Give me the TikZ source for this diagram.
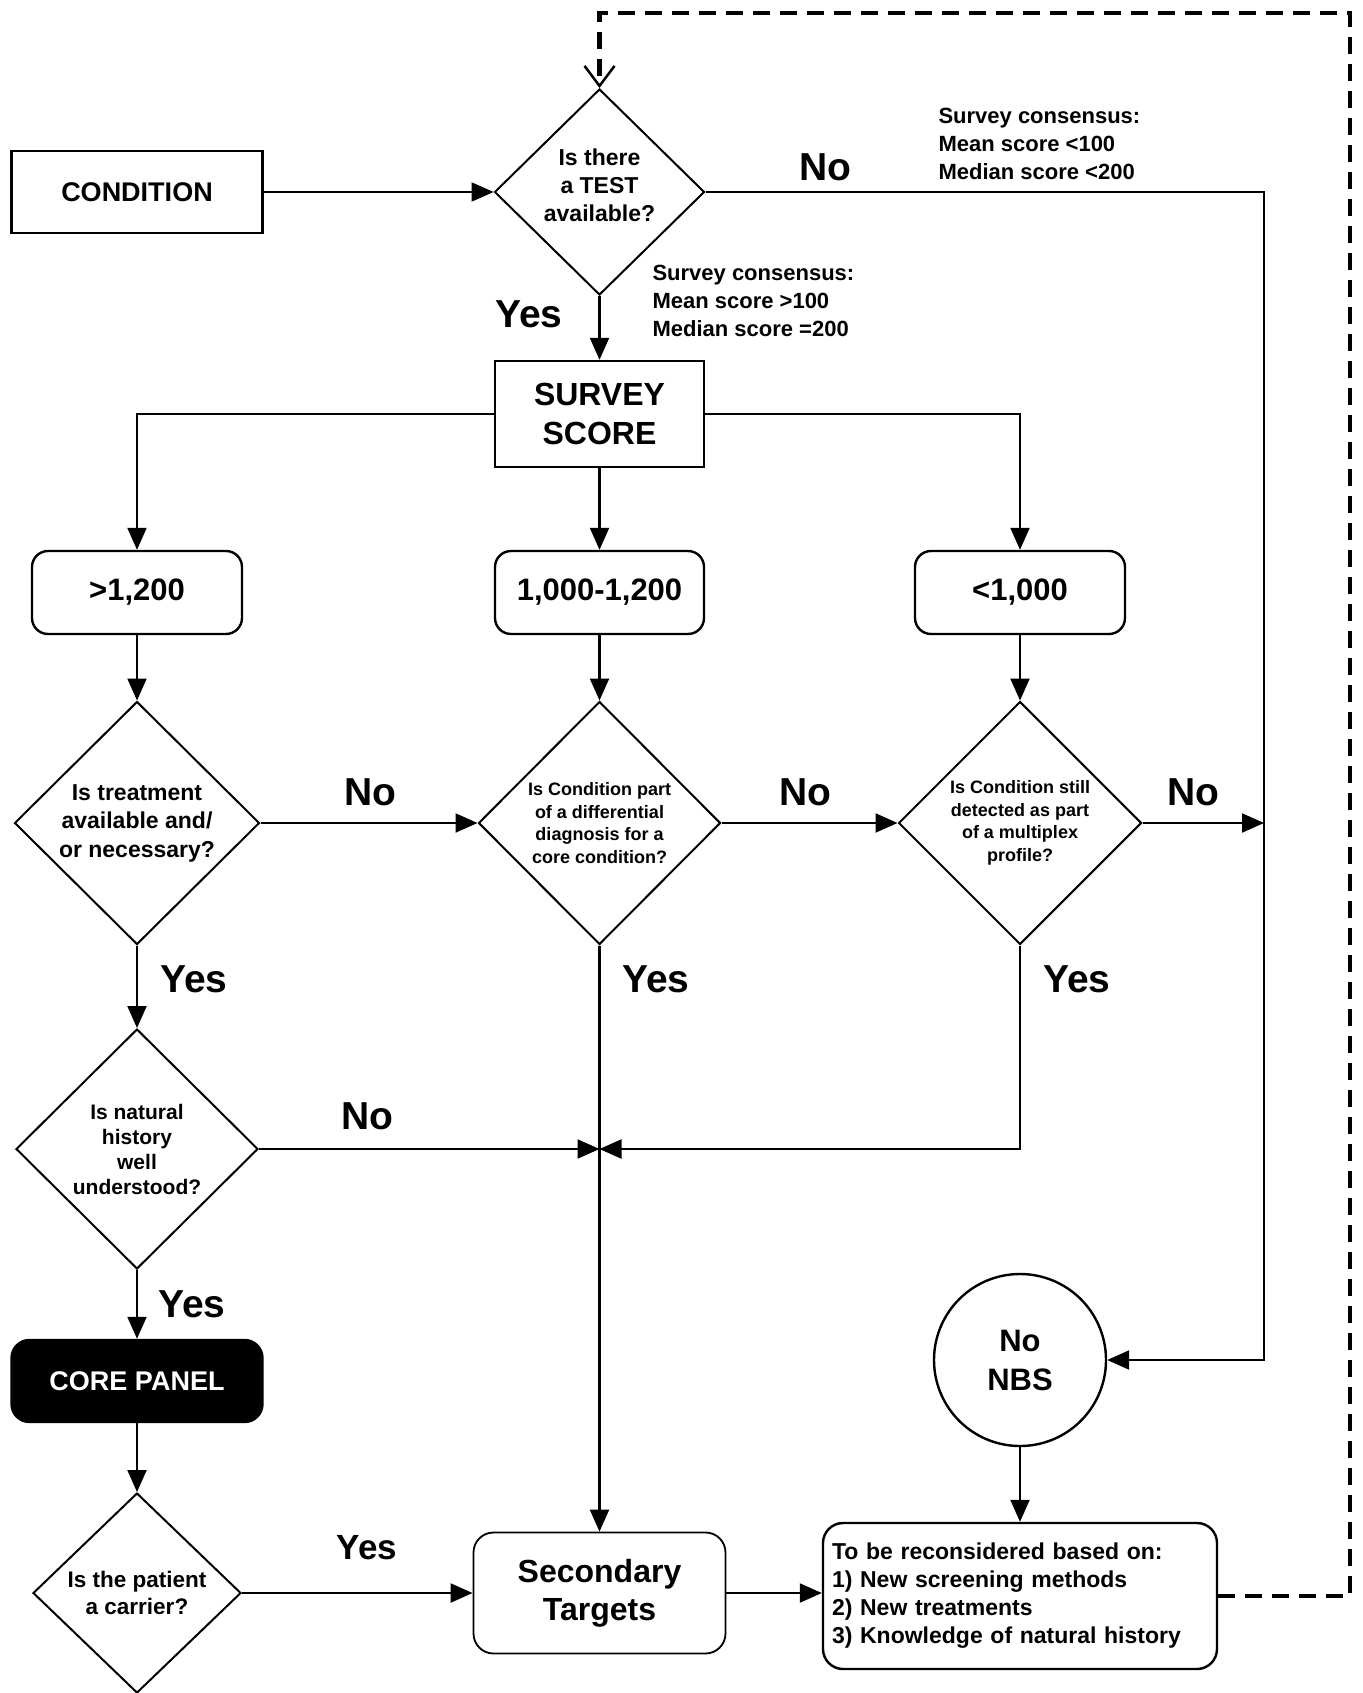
\documentclass[tikz,border=0pt]{standalone}
\usepackage{fontspec}
\setmainfont{Liberation Sans}
\usetikzlibrary{shapes.geometric,arrows.meta}

\begin{document}
\begin{tikzpicture}[x=1pt,y=-1pt,
        box/.style={draw,line width=2.4pt,inner sep=0pt,align=center,
            font=\bfseries\fontsize{27}{33}\selectfont},
        rbox/.style={box,rounded corners=16pt},
        decision/.style={draw,diamond,line width=2pt,inner sep=0pt,align=center},
        flow/.style={line width=2.2pt,-{Triangle[length=22pt,width=19pt]}},
        answer/.style={font=\bfseries\fontsize{39}{39}\selectfont},
        note/.style={align=left,font=\bfseries\fontsize{22}{28}\selectfont}]
        \useasboundingbox (0,0) rectangle (1362,1693);
        %% Top row
        \node[box,minimum width=251pt,minimum height=82pt] (cond) at (137,192) {CONDITION};
        \node[decision,minimum width=210pt,minimum height=206pt,text depth=13pt,
            font=\bfseries\fontsize{23}{28}\selectfont] (test) at (599.5,192) {Is there\\a TEST\\available?};
        \node[box,minimum width=209pt,minimum height=106pt,
            font=\bfseries\fontsize{32}{39}\selectfont] (score) at (599.5,414) {SURVEY\\SCORE};
        %% Score ranges
        \node[rbox,minimum width=210pt,minimum height=83pt,
            font=\bfseries\fontsize{31}{37}\selectfont] (hi) at (137,592.5) {>1,200};
        \node[rbox,minimum width=209pt,minimum height=83pt,
            font=\bfseries\fontsize{31}{37}\selectfont] (mid) at (599.5,592.5) {1,000-1,200};
        \node[rbox,minimum width=210pt,minimum height=83pt,
            font=\bfseries\fontsize{31}{37}\selectfont] (lo) at (1020,592.5) {<1,000};
        %% Questions
        \node[decision,minimum width=245pt,minimum height=243pt,
            font=\bfseries\fontsize{23}{28.5}\selectfont] (treat) at (137,823) {Is treatment\\available and/\\or necessary?};
        \node[decision,minimum width=242pt,minimum height=243pt,
            font=\bfseries\fontsize{18}{22.5}\selectfont] (diff) at (599.5,823) {Is Condition part\\of a differential\\diagnosis for a\\core condition?};
        \node[decision,minimum width=243pt,minimum height=243pt,
            font=\bfseries\fontsize{18}{22.5}\selectfont] (multi) at (1020,823) {Is Condition still\\detected as part\\of a multiplex\\profile?};
        \node[decision,minimum width=242pt,minimum height=240pt,
            font=\bfseries\fontsize{21}{25}\selectfont] (hist) at (137,1149) {Is natural\\history\\well\\understood?};
        %% Outcomes
        \node[rbox,rounded corners=18pt,fill=black,text=white,minimum width=251pt,minimum height=82pt] (core) at (137,1381) {CORE PANEL};
        \node[decision,minimum width=208pt,minimum height=200pt,
            font=\bfseries\fontsize{22.5}{27}\selectfont] (carrier) at (137,1593) {Is the patient\\a carrier?};
        \node[rbox,rounded corners=20pt,line width=1.8pt,minimum width=252pt,minimum height=121pt,
            font=\bfseries\fontsize{32}{38}\selectfont] (second) at (599.5,1593) {Secondary\\Targets};
        \node[rbox,rounded corners=20pt,text width=376pt,inner xsep=9pt,minimum height=146pt,align=left,
            font=\bfseries\fontsize{23}{28}\selectfont] (recon) at (1020,1596)
            {To be reconsidered based on:\\1) New screening methods\\2) New treatments\\3) Knowledge of natural history};
        \node[draw,circle,line width=2.4pt,minimum size=172pt,inner sep=0pt,align=center,
            font=\bfseries\fontsize{31}{39}\selectfont] (nonbs) at (1020,1360) {No\\NBS};
        %% Junction points
        \coordinate (ne) at (1264,192);
        \coordinate (se) at (1264,1360);
        \coordinate (rj) at (1264,823);
        \coordinate (junc) at (599.5,1149);
        \coordinate (dr) at (1350,1596);
        \coordinate (dt) at (1350,13);
        \coordinate (dl) at (599.5,13);
        %% Connectors
        \draw[flow] (cond.east) -- (test.west);
        \draw[flow] (test.east) -- (ne) -- (se) -- (nonbs.east);
        \draw[flow] (test.south) -- (score.north);
        \draw[flow] (score.west) -| (hi.north);
        \draw[flow] (score.south) -- (mid.north);
        \draw[flow] (score.east) -| (lo.north);
        \draw[flow] (hi.south) -- (treat.north);
        \draw[flow] (mid.south) -- (diff.north);
        \draw[flow] (lo.south) -- (multi.north);
        \draw[flow] (treat.east) -- (diff.west);
        \draw[flow] (diff.east) -- (multi.west);
        \draw[flow] (multi.east) -- (rj);
        \draw[flow] (treat.south) -- (hist.north);
        \draw[flow] (diff.south) -- (second.north);
        \draw[flow] (hist.east) -- (junc);
        \draw[flow] (multi.south) |- (junc);
        \draw[flow] (hist.south) -- (core.north);
        \draw[flow] (core.south) -- (carrier.north);
        \draw[flow] (carrier.east) -- (second.west);
        \draw[flow] (second.east) -- (second.east -| recon.west);
        \draw[flow] (nonbs.south) -- (recon.north);
        %% Feedback loop
        \draw[line width=4.5pt,dash pattern=on 17pt off 10pt,
            -{Straight Barb[length=20pt,width=30pt,line width=2.5pt]}]
            (recon.east) -- (dr) -- (dt) -- (dl) -- (test.north);
        %% Labels
        \node[answer] (no0) at (825,167) {No};
        \node[answer] (yes0) at (529,314) {Yes};
        \node[note,anchor=west] (consno) at (935,144) {Survey consensus:\\Mean score <100\\Median score <200};
        \node[note,anchor=west] (consyes) at (649,301) {Survey consensus:\\Mean score >100\\Median score =200};
        \node[answer] (no1) at (370,792) {No};
        \node[answer] (no2) at (805,792) {No};
        \node[answer] (no3) at (1193,792) {No};
        \node[answer] (yes1) at (194,979) {Yes};
        \node[answer] (yes2) at (656,979) {Yes};
        \node[answer] (yes3) at (1077,979) {Yes};
        \node[answer] (no4) at (367,1116) {No};
        \node[answer] (yes4) at (192,1304) {Yes};
        \node[answer,font=\bfseries\fontsize{35}{35}\selectfont] (yes5) at (367,1548) {Yes};
    \end{tikzpicture}
\end{document}
